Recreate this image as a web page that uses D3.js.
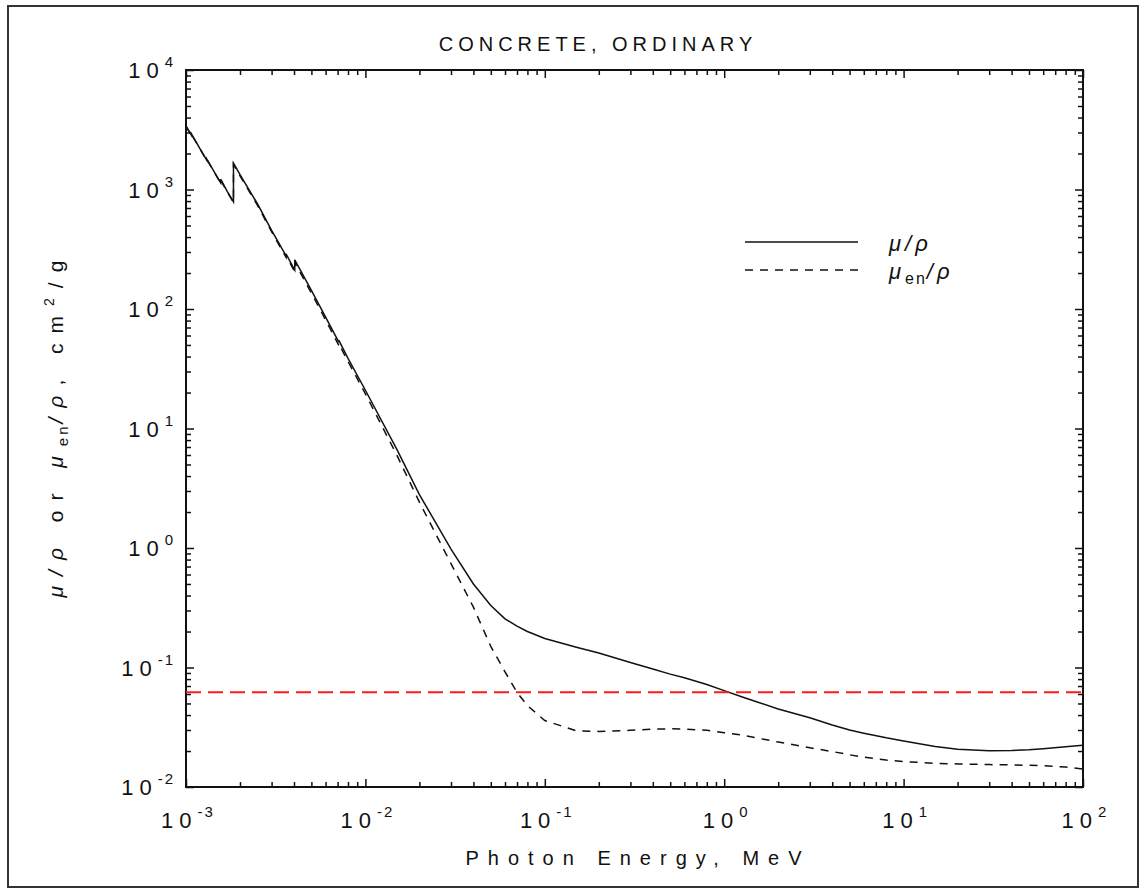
<!DOCTYPE html>
<html>
<head>
<meta charset="utf-8">
<script src="https://cdn.jsdelivr.net/npm/d3@7"></script>
<style>
  body { margin: 0; background: #fff; }
  text { font-family: "Liberation Sans", Arial, sans-serif; fill: #111; }
</style>
</head>
<body>
<svg id="chart"></svg>
<script>
const width = 1146;
const height = 895;
const margin = { left: 186, right: 63, top: 70, bottom: 108 };

// photon energy, MeV (repeated values are absorption edges)
const energy = [
  1.0e-3, 1.035e-3, 1.072e-3, 1.072e-3, 1.2e-3, 1.305e-3, 1.305e-3, 1.5e-3, 1.56e-3, 1.56e-3,
  1.7e-3, 1.839e-3, 1.839e-3, 2.0e-3, 2.5e-3, 3.0e-3, 3.607e-3, 3.607e-3, 4.0e-3, 4.038e-3,
  4.038e-3, 5e-3, 6e-3, 7.112e-3, 7.112e-3, 8e-3, 1e-2, 1.5e-2, 2e-2, 3e-2,
  4e-2, 5e-2, 6e-2, 7e-2, 8e-2, 0.1, 0.15, 0.2, 0.3, 0.4,
  0.5, 0.6, 0.8, 1, 1.25, 1.5, 2, 3, 4, 5,
  6, 8, 10, 15, 20, 30, 40, 50, 60, 80, 100
];
// mu/rho, cm2/g
const muRho = [
  3400, 3110, 2840, 2920, 2180, 1760, 1800, 1260, 1140, 1220,
  960, 790, 1660, 1330, 760, 455, 280, 290, 217, 212,
  258, 143, 85.4, 52.8, 54.7, 38.6, 20.9, 6.65, 2.8, 0.98,
  0.50, 0.33, 0.255, 0.222, 0.200, 0.175, 0.148, 0.132, 0.110, 0.097,
  0.088, 0.082, 0.072, 0.064, 0.057, 0.052, 0.045, 0.038, 0.033, 0.0300,
  0.0282, 0.0258, 0.0243, 0.0218, 0.0207, 0.0201, 0.0202, 0.0205, 0.0209, 0.0217, 0.0224
];
// mu_en/rho, cm2/g
const muEnRho = [
  3390, 3100, 2830, 2900, 2170, 1750, 1790, 1250, 1130, 1200,
  950, 780, 1620, 1300, 740, 443, 272, 281, 210, 205,
  245, 136, 81, 49.5, 51, 36.4, 19.5, 5.95, 2.42, 0.74,
  0.32, 0.15, 0.092, 0.062, 0.048, 0.036, 0.0295, 0.0292, 0.0298, 0.0305,
  0.0307, 0.0305, 0.0298, 0.0285, 0.0272, 0.0258, 0.0238, 0.0213, 0.0198, 0.0186,
  0.0178, 0.0168, 0.0163, 0.0158, 0.0156, 0.0154, 0.0153, 0.0152, 0.0151, 0.0147, 0.0141
];
const refLevel = 0.062;

const xDecades = [1e-3, 1e-2, 1e-1, 1, 10, 100];
const xExp = ["-3", "-2", "-1", "0", "1", "2"];
const yDecades = [1e-2, 1e-1, 1, 10, 100, 1000, 10000];
const yExp = ["-2", "-1", "0", "1", "2", "3", "4"];

const svg = d3.select("#chart")
  .attr("width", width)
  .attr("height", height);

// outer frame
svg.append("rect")
  .attr("x", 8).attr("y", 6)
  .attr("width", 1130).attr("height", 881)
  .attr("fill", "none")
  .attr("stroke", "#333")
  .attr("stroke-width", 2);

const x = d3.scaleLog()
  .domain([1e-3, 100])
  .range([margin.left, width - margin.right]);

const y = d3.scaleLog()
  .domain([1e-2, 1e4])
  .range([height - margin.bottom, margin.top]);

const isMajor = v => Math.abs(Math.log10(v) - Math.round(Math.log10(v))) < 1e-9;
const xTicks = x.ticks();
const yTicks = y.ticks();

function tickAxis(axis, ticks, transform) {
  const g = svg.append("g")
    .attr("transform", transform)
    .call(axis.tickValues(ticks).tickSizeOuter(0).tickFormat(""));
  g.select(".domain").remove();
  g.selectAll(".tick line")
    .attr("stroke", "#111")
    .attr("stroke-width", 1.5);
  return g;
}

const gxb = tickAxis(d3.axisBottom(x), xTicks, `translate(0,${height - margin.bottom})`);
gxb.selectAll(".tick line").attr("y2", d => isMajor(d) ? -8 : -5);
const gxt = tickAxis(d3.axisTop(x), xTicks, `translate(0,${margin.top})`);
gxt.selectAll(".tick line").attr("y2", d => isMajor(d) ? 8 : 5);
const gyl = tickAxis(d3.axisLeft(y), yTicks, `translate(${margin.left},0)`);
gyl.selectAll(".tick line").attr("x2", d => isMajor(d) ? 8 : 5);
const gyr = tickAxis(d3.axisRight(y), yTicks, `translate(${width - margin.right},0)`);
gyr.selectAll(".tick line").attr("x2", d => isMajor(d) ? -8 : -5);

// plot box
svg.append("rect")
  .attr("x", margin.left).attr("y", margin.top)
  .attr("width", width - margin.left - margin.right)
  .attr("height", height - margin.top - margin.bottom)
  .attr("fill", "none")
  .attr("stroke", "#111")
  .attr("stroke-width", 2);

// tick labels
svg.append("g").selectAll("text")
  .data(xDecades)
  .join("text")
  .attr("x", d => x(d) + 2)
  .attr("y", 828)
  .attr("text-anchor", "middle")
  .attr("font-size", 22)
  .each(function (d, i) {
    const t = d3.select(this);
    t.append("tspan").attr("letter-spacing", 6).text("10");
    t.append("tspan").attr("dy", -11).attr("font-size", 15).attr("letter-spacing", 2).text(xExp[i]);
  });

svg.append("g").selectAll("text")
  .data(yDecades)
  .join("text")
  .attr("x", 175)
  .attr("y", d => y(d) + 8)
  .attr("text-anchor", "end")
  .attr("font-size", 22)
  .each(function (d, i) {
    const t = d3.select(this);
    t.append("tspan").attr("letter-spacing", 6).text("10");
    t.append("tspan").attr("dy", -11).attr("font-size", 15).attr("letter-spacing", 2).text(yExp[i]);
  });

// titles
svg.append("text")
  .attr("x", 598).attr("y", 51)
  .attr("text-anchor", "middle")
  .attr("font-size", 20)
  .attr("letter-spacing", 5)
  .text("CONCRETE, ORDINARY");

svg.append("text")
  .attr("x", 638).attr("y", 865)
  .attr("text-anchor", "middle")
  .attr("font-size", 20)
  .attr("letter-spacing", 9)
  .text("Photon Energy, MeV");

const ylab = svg.append("text")
  .attr("transform", "translate(63,424) rotate(-90)")
  .attr("text-anchor", "middle")
  .attr("font-size", 21)
  .attr("letter-spacing", 10);
ylab.append("tspan").attr("font-style", "italic").text("μ/ρ");
ylab.append("tspan").text(" or ");
ylab.append("tspan").attr("font-style", "italic").text("μ");
ylab.append("tspan").attr("dy", 5).attr("font-size", 15).attr("letter-spacing", 3).text("en");
ylab.append("tspan").attr("dy", -5).attr("font-style", "italic").text("/ρ");
ylab.append("tspan").text(", cm");
ylab.append("tspan").attr("dy", -9).attr("font-size", 14).text("2");
ylab.append("tspan").attr("dy", 9).text("/g");

// curves
svg.append("clipPath").attr("id", "clip")
  .append("rect")
  .attr("x", margin.left).attr("y", margin.top)
  .attr("width", width - margin.left - margin.right)
  .attr("height", height - margin.top - margin.bottom);

const plot = svg.append("g").attr("clip-path", "url(#clip)");

const line = vals => d3.line()
  .x((d, i) => x(energy[i]))
  .y(d => y(d))(vals);

plot.append("path")
  .attr("d", line(muRho))
  .attr("fill", "none")
  .attr("stroke", "#111")
  .attr("stroke-width", 1.5);

plot.append("path")
  .attr("d", line(muEnRho))
  .attr("fill", "none")
  .attr("stroke", "#111")
  .attr("stroke-width", 1.5)
  .attr("stroke-dasharray", "8,7");

plot.append("line")
  .attr("x1", margin.left).attr("x2", width - margin.right)
  .attr("y1", y(refLevel)).attr("y2", y(refLevel))
  .attr("stroke", "#ff1a1a")
  .attr("stroke-width", 2)
  .attr("stroke-dasharray", "15,7");

// legend
const legend = svg.append("g");
const legendItems = [
  { dash: null, y: 242, label: ["μ/ρ", null] },
  { dash: "8,7", y: 270, label: ["μ", "en"] }
];
legendItems.forEach(item => {
  legend.append("line")
    .attr("x1", 745).attr("x2", 858)
    .attr("y1", item.y).attr("y2", item.y)
    .attr("stroke", "#111")
    .attr("stroke-width", 1.5)
    .attr("stroke-dasharray", item.dash);
  const t = legend.append("text")
    .attr("x", 889).attr("y", item.y + 9)
    .attr("font-size", 22)
    .attr("font-style", "italic")
    .attr("letter-spacing", 4);
  t.append("tspan").text(item.label[0]);
  if (item.label[1]) {
    t.append("tspan").attr("dy", 5).attr("font-size", 16).attr("font-style", "normal").attr("letter-spacing", 2).text(item.label[1]);
    t.append("tspan").attr("dy", -5).text("/ρ");
  }
});
</script>
</body>
</html>
